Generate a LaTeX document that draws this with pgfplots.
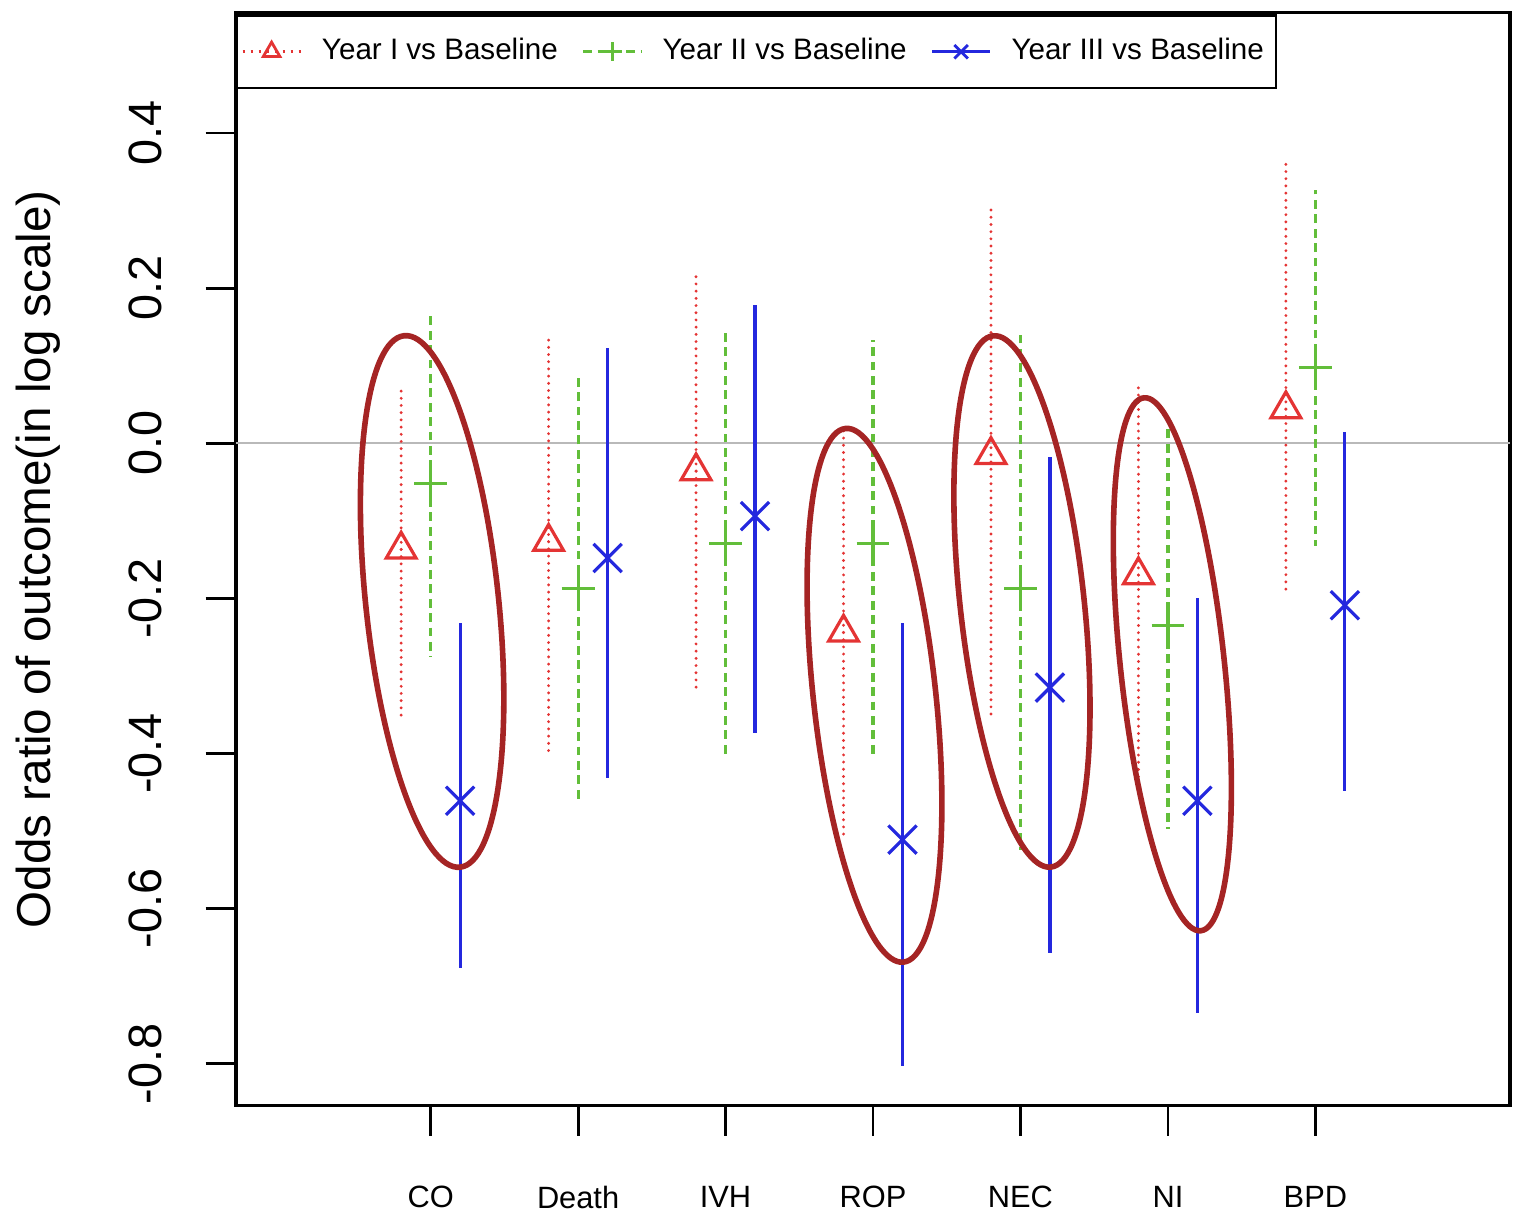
\documentclass[border=0pt]{standalone}
\usepackage{fontspec}
\setmainfont{Liberation Sans}
\usepackage{pgfplots}
\pgfplotsset{compat=1.18}
\usepackage{pgfplotstable}

\definecolor{yrone}{RGB}{228,52,52}
\definecolor{yrtwo}{RGB}{98,190,58}
\definecolor{yrthree}{RGB}{36,40,222}
\definecolor{ringc}{RGB}{165,36,36}

% year I vs baseline (drawn left of each category)
\pgfplotstableread{
x    y      lo     hi
0.8  -0.137 -0.357 0.071
1.8  -0.127 -0.405 0.135
2.8  -0.036 -0.319 0.222
3.8  -0.244 -0.512 0.023
4.8  -0.015 -0.357 0.307
5.8  -0.170 -0.441 0.077
6.8   0.044 -0.190 0.368
}\yearone
% year II vs baseline
\pgfplotstableread{
x    y      lo     hi
1    -0.052 -0.276 0.169
2    -0.187 -0.461 0.090
3    -0.129 -0.403 0.142
4    -0.129 -0.403 0.133
5    -0.187 -0.525 0.146
6    -0.235 -0.497 0.023
7     0.098 -0.132 0.326
}\yeartwo
% year III vs baseline
\pgfplotstableread{
x    y      lo     hi
1.2  -0.461 -0.676 -0.232
2.2  -0.148 -0.431  0.123
3.2  -0.094 -0.373  0.178
4.2  -0.511 -0.803 -0.232
5.2  -0.315 -0.657 -0.018
6.2  -0.461 -0.734 -0.199
7.2  -0.209 -0.448  0.014
}\yearthree

\begin{document}
\begin{tikzpicture}
\begin{axis}[
    name=ax,
    scale only axis,
    width=318.5pt, height=273.2pt,
    xmin=-0.32, xmax=8.32,
    ymin=-0.854, ymax=0.555,
    axis line style={line width=0.8pt},
    xtick={1,2,3,4,5,6,7},
    xticklabels={CO,Death,IVH,ROP,NEC,NI,BPD},
    ytick={-0.8,-0.6,-0.4,-0.2,0,0.2,0.4},
    yticklabels={-0.8,-0.6,-0.4,-0.2,0.0,0.2,0.4},
    xtick pos=bottom, ytick pos=left,
    tick align=outside,
    major tick length=7.6pt,
    tick style={line width=0.7pt, black},
    xticklabel style={font=\fontsize{7.7}{9}\selectfont, inner sep=0pt, anchor=north},
    xticklabel shift=12.4pt,
    yticklabel style={font=\fontsize{11.7}{13}\selectfont, rotate=90, anchor=south, inner sep=0pt},
    yticklabel shift=10.6pt,
    ylabel={Odds ratio of outcome(in log scale)},
    ylabel style={font=\fontsize{11.9}{13}\selectfont, inner sep=0pt,
        at={(axis description cs:-0.1735,0.5)}, anchor=north},
    legend columns=3,
    legend cell align=left,
    legend style={at={(axis description cs:0,0.9985)}, anchor=north west,
        draw=black, line width=0.6pt,
        font=\fontsize{7.4}{9}\selectfont,
        inner xsep=1pt, inner ysep=3.6pt,
        /tikz/every odd column/.append style={column sep=3pt},
        /tikz/every even column/.append style={column sep=4pt}},
    legend image code/.code={
        \draw[#1, mark=none] (0pt,0pt) -- (14.5pt,0pt);
        \draw[#1, solid, mark size=2.4pt] plot coordinates {(7.25pt,0pt)};
    },
]
\addlegendimage{yrone, line width=0.7pt, dash pattern=on 0.6pt off 1.4pt, mark=triangle}
\addlegendentry{Year I vs Baseline}
\addlegendimage{yrtwo, line width=0.7pt, dash pattern=on 2.2pt off 1.4pt, mark=+}
\addlegendentry{Year II vs Baseline}
\addlegendimage{yrthree, line width=0.7pt, mark=x}
\addlegendentry{Year III vs Baseline}

\addplot[gray!55, line width=0.5pt, forget plot] coordinates {(-0.32,0) (8.32,0)};

\addplot[yrone, only marks, mark=triangle, mark size=4.3pt, mark options={line width=0.8pt}, forget plot,
    error bars/.cd, y dir=both, y explicit, error mark=none,
    error bar style={yrone, line width=0.8pt, line cap=round, dash pattern=on 0pt off 1.8pt}]
    table[x=x, y=y, y error plus expr=\thisrow{hi}-\thisrow{y}, y error minus expr=\thisrow{y}-\thisrow{lo}] {\yearone};
\addplot[yrtwo, only marks, mark=+, mark size=4.1pt, mark options={line width=0.8pt}, forget plot,
    error bars/.cd, y dir=both, y explicit, error mark=none,
    error bar style={yrtwo, line width=0.8pt, dash pattern=on 2.2pt off 1.4pt}]
    table[x=x, y=y, y error plus expr=\thisrow{hi}-\thisrow{y}, y error minus expr=\thisrow{y}-\thisrow{lo}] {\yeartwo};
\addplot[yrthree, only marks, mark=x, mark size=5pt, mark options={line width=0.8pt}, forget plot,
    error bars/.cd, y dir=both, y explicit, error mark=none,
    error bar style={yrthree, line width=0.8pt}]
    table[x=x, y=y, y error plus expr=\thisrow{hi}-\thisrow{y}, y error minus expr=\thisrow{y}-\thisrow{lo}] {\yearthree};

% highlighted groups
\draw[ringc, line width=1.4pt, rotate around={6:(axis cs:1.01,-0.204)}]
    (axis cs:1.01,-0.204) ellipse [x radius=16.6pt, y radius=66.8pt];
\draw[ringc, line width=1.4pt, rotate around={6.2:(axis cs:4.01,-0.325)}]
    (axis cs:4.01,-0.325) ellipse [x radius=15.3pt, y radius=67.1pt];
\draw[ringc, line width=1.4pt, rotate around={6.2:(axis cs:5.01,-0.204)}]
    (axis cs:5.01,-0.204) ellipse [x radius=15.5pt, y radius=66.8pt];
\draw[ringc, line width=1.4pt, rotate around={6.1:(axis cs:6.03,-0.285)}]
    (axis cs:6.03,-0.285) ellipse [x radius=13pt, y radius=67pt];
\end{axis}
\path ([shift={(-59pt,-30pt)}]ax.south west) rectangle ([shift={(2pt,3.2pt)}]ax.north east);
\end{tikzpicture}
\end{document}
